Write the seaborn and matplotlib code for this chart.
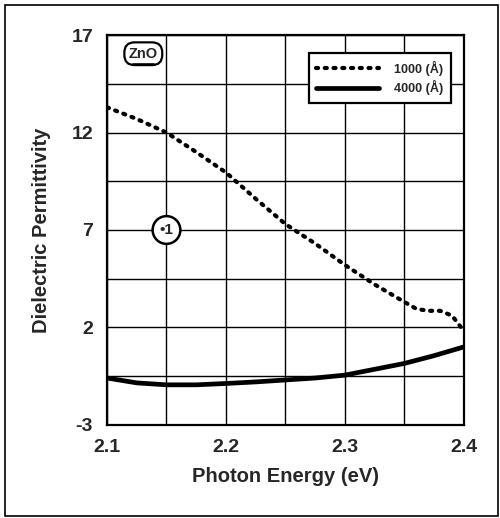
import numpy as np
import pandas as pd
import matplotlib
matplotlib.use("Agg")
import matplotlib.pyplot as plt
import seaborn as sns
from matplotlib.patches import Rectangle

# data
energy_1000 = [2.10, 2.125, 2.15, 2.175, 2.20, 2.225, 2.25, 2.275, 2.30, 2.325,
               2.35, 2.36, 2.37, 2.38, 2.39, 2.40]
perm_1000 = [13.3, 12.7, 12.0, 11.0, 9.95, 8.6, 7.3, 6.3, 5.2, 4.2,
             3.3, 2.95, 2.85, 2.85, 2.6, 1.8]
energy_4000 = [2.10, 2.125, 2.15, 2.175, 2.20, 2.225, 2.25, 2.275, 2.30, 2.325,
               2.35, 2.375, 2.40]
perm_4000 = [-0.6, -0.85, -0.95, -0.95, -0.88, -0.8, -0.7, -0.6, -0.45, -0.15,
             0.15, 0.55, 1.0]
y_ticks = [-3, 2, 7, 12, 17]
x_ticks = [2.1, 2.2, 2.3, 2.4]

sns.set_style("white")
plt.rcParams['font.family'] = ['Liberation Sans', 'DejaVu Sans']
plt.rcParams['font.weight'] = 'bold'
plt.rcParams['axes.unicode_minus'] = False

df1 = pd.DataFrame({'energy': energy_1000, 'perm': perm_1000})
df2 = pd.DataFrame({'energy': energy_4000, 'perm': perm_4000})

fig = plt.figure(figsize=(5, 5.18), dpi=100)
ax = fig.add_axes([0.214, 0.18, 0.714, 0.752])

# grid every half step
for x in np.arange(2.1, 2.401, 0.05):
    ax.axvline(x, color='black', lw=1, zorder=1)
for y in np.arange(-3, 17.01, 2.5):
    ax.axhline(y, color='black', lw=1, zorder=1)

sns.lineplot(data=df1, x='energy', y='perm', ax=ax, color='black',
             lw=3, linestyle=(0, (0.5, 1.6)), label='1000 (\u00c5)', zorder=3)
sns.lineplot(data=df2, x='energy', y='perm', ax=ax, color='black',
             lw=3.4, label='4000 (\u00c5)', zorder=3)
ax.lines[-1].set_solid_capstyle('round')
ax.lines[-2].set_dash_capstyle('round')

ax.set_xlim(2.1, 2.4)
ax.set_ylim(-3, 17)
ax.set_xticks(x_ticks)
ax.set_xticklabels([f'{v:.1f}' for v in x_ticks])
ax.set_yticks(y_ticks)
ax.tick_params(axis='both', labelsize=14, length=5, width=1.2, direction='out',
               color='black', pad=5)
for lab in ax.get_xticklabels() + ax.get_yticklabels():
    lab.set_fontweight('bold')
for s in ax.spines.values():
    s.set_color('black')
    s.set_linewidth(1.6)

ax.set_xlabel('Photon Energy (eV)', fontsize=14.5, fontweight='bold', labelpad=8)
ax.set_ylabel('Dielectric Permittivity', fontsize=14.5, fontweight='bold', labelpad=15)

leg = ax.legend(loc='upper right', bbox_to_anchor=(0.98, 0.97),
                frameon=True, fancybox=False, handlelength=5, borderpad=0.6,
                labelspacing=0.35, handletextpad=1.2,
                prop={'weight': 'bold', 'size': 9})
leg.get_frame().set_edgecolor('black')
leg.get_frame().set_linewidth(1.6)
leg.get_frame().set_alpha(1)

ax.text(2.1305, 16.05, 'ZnO', fontsize=10.5, fontweight='bold', ha='center', va='center',
        bbox=dict(boxstyle='round,pad=0.3,rounding_size=0.7', fc='white', ec='black', lw=1.6),
        zorder=5)
ax.plot([2.1215, 2.1395], [15.5, 15.5], color='black', lw=1.2, zorder=7)
ax.text(2.15, 7, '\u20221', fontsize=11, fontweight='bold', ha='center', va='center',
        bbox=dict(boxstyle='circle,pad=0.45', fc='white', ec='black', lw=1.8), zorder=5)

fig.patches.append(Rectangle((0.01, 0.004), 0.986, 0.986, transform=fig.transFigure,
                             fill=False, ec='black', lw=1.2))

fig.savefig('out.png', dpi=100)
